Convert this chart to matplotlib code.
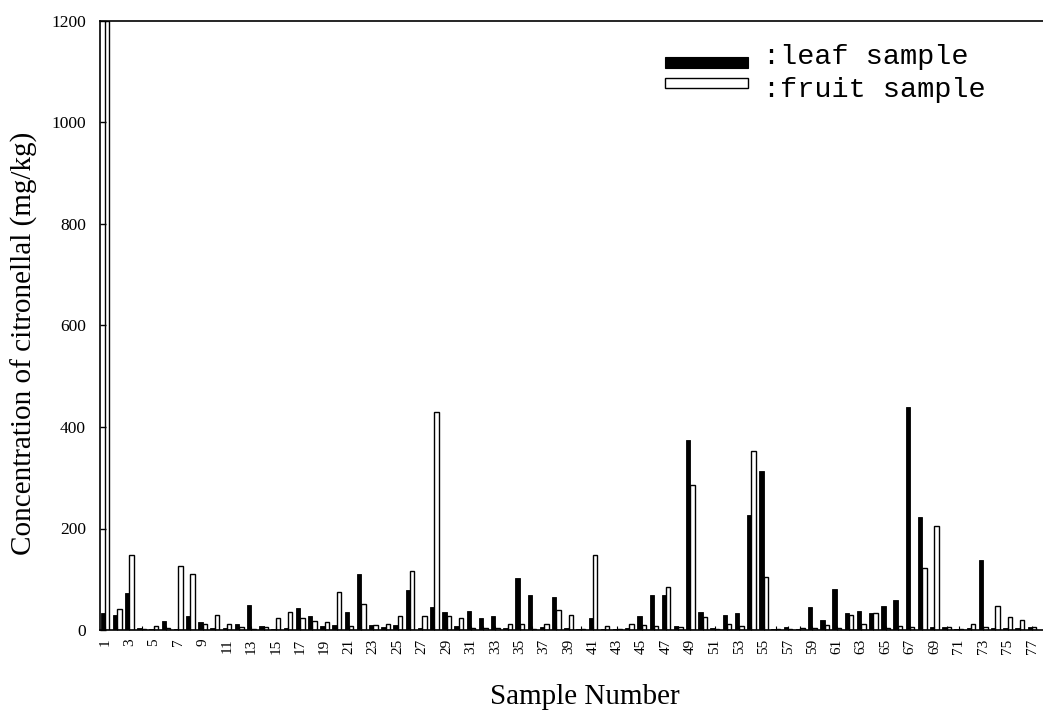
import matplotlib
matplotlib.use("Agg")
import matplotlib.pyplot as plt
from matplotlib.patches import Rectangle
import numpy as np

samples = list(range(1, 78))
leaf = [33, 30, 72, 3, 2, 18, 2, 27, 15, 3,
        3, 12, 50, 8, 2, 3, 44, 27, 8, 10,
        35, 110, 10, 5, 10, 78, 3, 46, 35, 8,
        38, 24, 27, 3, 102, 68, 5, 65, 3, 2,
        24, 2, 2, 3, 27, 68, 68, 8, 375, 35,
        3, 30, 33, 226, 314, 2, 5, 2, 45, 20,
        80, 33, 38, 34, 47, 60, 440, 222, 5, 5,
        2, 3, 137, 3, 3, 3, 5]
fruit = [1200, 42, 147, 2, 8, 3, 127, 110, 12, 30,
         11, 6, 2, 5, 24, 36, 24, 18, 16, 75,
         8, 51, 10, 12, 27, 117, 27, 430, 27, 24,
         3, 3, 3, 11, 11, 2, 12, 40, 29, 2,
         147, 8, 2, 12, 10, 8, 85, 5, 286, 25,
         2, 12, 8, 353, 104, 2, 2, 3, 3, 9,
         3, 30, 12, 33, 3, 8, 5, 122, 205, 5,
         2, 12, 5, 47, 25, 20, 6]
y_ticks = [0, 200, 400, 600, 800, 1000, 1200]
x_tick_labels = list(range(1, 78, 2))
legend_labels = [":leaf sample", ":fruit sample"]
y_label = "Concentration of citronellal (mg/kg)"
x_label = "Sample Number"

W, H = 1043, 712
fig = plt.figure(figsize=(W / 100, H / 100), dpi=100)
ax = fig.add_axes([100 / W, 82 / H, 943 / W, 609 / H])

x = np.array(samples, dtype=float)
bw = 0.36
ax.bar(x - bw / 2, leaf, width=bw, color="black", edgecolor="black", linewidth=0.6)
ax.bar(x + bw / 2, fruit, width=bw, color="white", edgecolor="black", linewidth=1.0)

ax.set_xlim(0.59, 77.9)
ax.set_ylim(0, 1200)
ax.set_yticks(y_ticks)
ax.set_yticklabels([str(v) for v in y_ticks], fontfamily="Liberation Serif", fontsize=12.5)
ax.set_xticks(x_tick_labels)
ax.set_xticklabels([str(v) for v in x_tick_labels], rotation=90,
                   fontfamily="Liberation Serif", fontsize=11)
ax.set_xticks(samples, minor=True)
ax.tick_params(axis="y", direction="in", length=4, width=1, pad=10)
ax.tick_params(axis="x", which="both", direction="in", length=3, width=0.8, pad=6)

for s in ["left", "bottom", "top"]:
    ax.spines[s].set_linewidth(1.2)
ax.spines["right"].set_visible(False)

ax.set_ylabel(y_label, fontfamily="Liberation Serif", fontsize=21)
ax.yaxis.set_label_coords(-0.066, 0.471)
ax.set_xlabel(x_label, fontfamily="Liberation Serif", fontsize=21)
ax.xaxis.set_label_coords(0.514, -0.088)

def fx(px):
    return px / W

def fy(py):
    return 1 - py / H

# legend
fig.add_artist(Rectangle((fx(665), fy(68)), fx(748) - fx(665), fy(56.5) - fy(68),
                         transform=fig.transFigure, facecolor="black", edgecolor="black", lw=0.8))
fig.add_artist(Rectangle((fx(665), fy(87.5)), fx(748) - fx(665), fy(77.5) - fy(87.5),
                         transform=fig.transFigure, facecolor="white", edgecolor="black", lw=1.0))
fig.text(fx(763), fy(64), legend_labels[0], fontfamily="Liberation Mono", fontsize=20.5,
         va="baseline", ha="left")
fig.text(fx(763), fy(97), legend_labels[1], fontfamily="Liberation Mono", fontsize=20.5,
         va="baseline", ha="left")

fig.savefig("out.png", dpi=100)
